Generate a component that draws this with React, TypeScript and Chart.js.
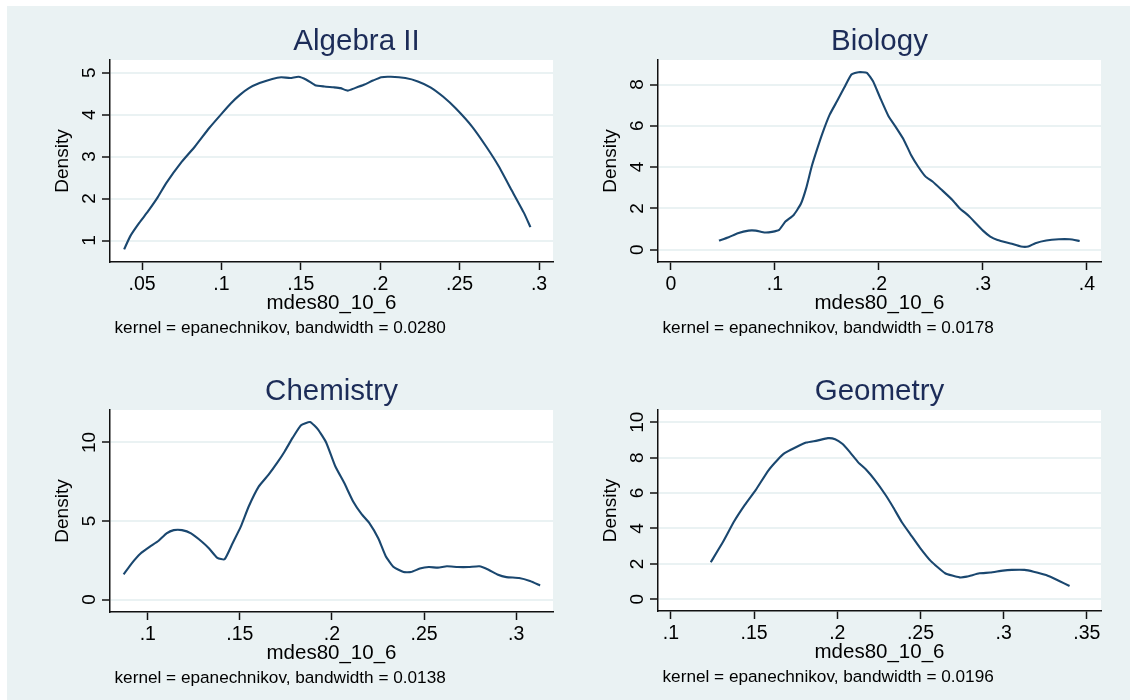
import { useEffect, useRef } from "react";
import { Chart, registerables } from "chart.js";
Chart.register(...registerables);

// ---------- data ----------
const algebraX = [0.0387,0.0425,0.0482,0.0538,0.0595,0.0652,0.0742,0.0833,0.0923,0.1003,0.106,0.1116,0.1173,0.124,0.132,0.1376,0.1433,0.1485,0.1535,0.159,0.1648,0.1705,0.175,0.1795,0.184,0.1897,0.1954,0.2006,0.2067,0.2158,0.2237,0.2316,0.2395,0.2475,0.2577,0.2667,0.2746,0.2826,0.2905,0.2946];
const algebraY = [0.79,1.10,1.42,1.70,2.01,2.37,2.84,3.24,3.68,4.03,4.27,4.47,4.63,4.75,4.85,4.89,4.87,4.90,4.83,4.70,4.67,4.65,4.63,4.57,4.63,4.71,4.81,4.89,4.90,4.87,4.79,4.65,4.43,4.15,3.72,3.24,2.77,2.21,1.66,1.32];
const algebraXTicks = [0.05, 0.1, 0.15, 0.2, 0.25, 0.3];
const algebraXLabels = [".05", ".1", ".15", ".2", ".25", ".3"];
const algebraYTicks = [1, 2, 3, 4, 5];

const biologyX = [0.0461,0.0555,0.0642,0.0746,0.0815,0.0902,0.0971,0.104,0.110,0.118,0.1249,0.130,0.1353,0.1405,0.1457,0.1526,0.1596,0.1665,0.1735,0.1804,0.1884,0.1943,0.2012,0.2092,0.2168,0.2238,0.2307,0.2376,0.2446,0.2515,0.2602,0.2706,0.2775,0.2862,0.2931,0.300,0.307,0.314,0.3278,0.3365,0.3435,0.3504,0.3608,0.3729,0.3833,0.393];
const biologyY = [0.44,0.60,0.79,0.92,0.92,0.83,0.86,0.96,1.36,1.68,2.22,2.98,4.03,4.87,5.65,6.54,7.19,7.84,8.49,8.60,8.57,8.16,7.35,6.46,5.89,5.33,4.60,4.03,3.55,3.30,2.90,2.41,2.01,1.64,1.28,0.92,0.63,0.47,0.28,0.15,0.15,0.31,0.44,0.50,0.50,0.42];
const biologyXTicks = [0, 0.1, 0.2, 0.3, 0.4];
const biologyXLabels = ["0", ".1", ".2", ".3", ".4"];
const biologyYTicks = [0, 2, 4, 6, 8];

const chemistryX = [0.0869,0.0912,0.0961,0.101,0.1059,0.1102,0.1141,0.1186,0.1235,0.1294,0.1333,0.1378,0.1417,0.146,0.1505,0.1548,0.1603,0.1656,0.1705,0.1744,0.1787,0.1832,0.1881,0.1924,0.1969,0.2018,0.2067,0.2115,0.216,0.2204,0.2252,0.2292,0.2335,0.2389,0.2429,0.2477,0.2526,0.2575,0.2624,0.2683,0.2742,0.28,0.285,0.2898,0.2947,0.3016,0.3075,0.313];
const chemistryY = [1.60,2.29,2.93,3.35,3.74,4.21,4.42,4.42,4.21,3.68,3.25,2.65,2.56,3.57,4.64,5.92,7.20,7.95,8.74,9.44,10.30,11.09,11.30,10.83,9.98,8.48,7.41,6.24,5.45,4.85,3.89,2.76,2.07,1.75,1.75,1.97,2.07,2.03,2.12,2.07,2.07,2.12,1.90,1.60,1.43,1.37,1.18,0.90];
const chemistryXTicks = [0.1, 0.15, 0.2, 0.25, 0.3];
const chemistryXLabels = [".1", ".15", ".2", ".25", ".3"];
const chemistryYTicks = [0, 5, 10];

const geometryX = [0.1239,0.1314,0.1379,0.1444,0.151,0.1585,0.164,0.1683,0.1748,0.1813,0.1878,0.1943,0.1987,0.203,0.2073,0.2127,0.2171,0.2225,0.229,0.2333,0.2388,0.2442,0.2496,0.2561,0.2648,0.2735,0.2778,0.2854,0.2919,0.2995,0.3049,0.3125,0.318,0.3255,0.3331,0.3396];
const geometryY = [2.09,3.26,4.39,5.33,6.18,7.27,7.87,8.25,8.57,8.85,8.96,9.10,9.04,8.78,8.34,7.72,7.34,6.74,5.89,5.24,4.35,3.63,2.92,2.17,1.47,1.24,1.28,1.47,1.51,1.62,1.66,1.66,1.56,1.37,1.05,0.75];
const geometryXTicks = [0.1, 0.15, 0.2, 0.25, 0.3, 0.35];
const geometryXLabels = [".1", ".15", ".2", ".25", ".3", ".35"];
const geometryYTicks = [0, 2, 4, 6, 8, 10];

const xTitle = "mdes80_10_6";
const yTitle = "Density";

// ---------- styles / layout ----------
const FONT = '"Liberation Sans", Arial, sans-serif';
const BG = "#eaf2f3";
const LINE = "#1a476f";
const TITLE_COLOR = "#1c2c58";
const AXIS = "#111111";

type PanelDef = {
  title: string;
  note: string;
  xs: number[];
  ys: number[];
  xTicks: number[];
  xLabels: string[];
  yTicks: number[];
  xMin: number; xMax: number; yMin: number; yMax: number;
  cl: number; ct: number; cw: number; ch: number;
  pl: number; pr: number; pt: number; pb: number;
  titleShift: number;
};

const panels: PanelDef[] = [
  {
    title: "Algebra II", note: "kernel = epanechnikov, bandwidth = 0.0280",
    xs: algebraX, ys: algebraY, xTicks: algebraXTicks, xLabels: algebraXLabels, yTicks: algebraYTicks,
    xMin: 0.0298, xMax: 0.3088, yMin: 0.49, yMax: 5.30,
    cl: 7, ct: 6, cw: 558, ch: 349, pl: 110, pr: 553, pt: 60, pb: 262, titleShift: 25,
  },
  {
    title: "Biology", note: "kernel = epanechnikov, bandwidth = 0.0178",
    xs: biologyX, ys: biologyY, xTicks: biologyXTicks, xLabels: biologyXLabels, yTicks: biologyYTicks,
    xMin: -0.0125, xMax: 0.4135, yMin: -0.6, yMax: 9.19,
    cl: 565, ct: 6, cw: 565, ch: 349, pl: 658, pr: 1101, pt: 60, pb: 262, titleShift: 0,
  },
  {
    title: "Chemistry", note: "kernel = epanechnikov, bandwidth = 0.0138",
    xs: chemistryX, ys: chemistryY, xTicks: chemistryXTicks, xLabels: chemistryXLabels, yTicks: chemistryYTicks,
    xMin: 0.0795, xMax: 0.32, yMin: -0.79, yMax: 12.06,
    cl: 7, ct: 355, cw: 558, ch: 345, pl: 110, pr: 553, pt: 410, pb: 612, titleShift: 0,
  },
  {
    title: "Geometry", note: "kernel = epanechnikov, bandwidth = 0.0196",
    xs: geometryX, ys: geometryY, xTicks: geometryXTicks, xLabels: geometryXLabels, yTicks: geometryYTicks,
    xMin: 0.0922, xMax: 0.3585, yMin: -0.66, yMax: 10.69,
    cl: 565, ct: 355, cw: 565, ch: 345, pl: 658, pr: 1101, pt: 410, pb: 611, titleShift: 0,
  },
];

function fmtY(v: number) {
  return String(v);
}

function Panel({ p }: { p: PanelDef }) {
  const ref = useRef<HTMLCanvasElement>(null);
  useEffect(() => {
    const canvas = ref.current!;
    const textPlugin = {
      id: "stataText",
      beforeDraw(chart: any) {
        const { ctx, chartArea } = chart;
        ctx.save();
        ctx.fillStyle = "#ffffff";
        ctx.fillRect(chartArea.left, chartArea.top, chartArea.right - chartArea.left, chartArea.bottom - chartArea.top);
        ctx.restore();
      },
      afterDraw(chart: any) {
        const { ctx, chartArea, scales } = chart;
        const xs = scales.x, ys = scales.y;
        ctx.save();
        // title
        ctx.fillStyle = TITLE_COLOR;
        ctx.font = `29.5px ${FONT}`;
        ctx.textAlign = "center";
        ctx.textBaseline = "alphabetic";
        ctx.fillText(p.title, (chartArea.left + chartArea.right) / 2 + p.titleShift, chartArea.top - 10);
        // x tick labels
        ctx.fillStyle = "#000000";
        ctx.font = `19.5px ${FONT}`;
        p.xTicks.forEach((v, i) => {
          ctx.fillText(p.xLabels[i], xs.getPixelForValue(v), chartArea.bottom + 28);
        });
        // x title
        ctx.font = `20.5px ${FONT}`;
        ctx.fillText(xTitle, (chartArea.left + chartArea.right) / 2, chartArea.bottom + 47);
        // note
        ctx.font = `17.2px ${FONT}`;
        ctx.textAlign = "left";
        ctx.fillText(p.note, chartArea.left + 4.5, chartArea.bottom + 71);
        // y tick labels (rotated)
        ctx.font = `19px ${FONT}`;
        ctx.textAlign = "center";
        p.yTicks.forEach((v) => {
          ctx.save();
          ctx.translate(chartArea.left - 15, ys.getPixelForValue(v));
          ctx.rotate(-Math.PI / 2);
          ctx.fillText(fmtY(v), 0, 0);
          ctx.restore();
        });
        // y title
        ctx.save();
        ctx.font = `19px ${FONT}`;
        ctx.translate(chartArea.left - 42, (chartArea.top + chartArea.bottom) / 2);
        ctx.rotate(-Math.PI / 2);
        ctx.fillText(yTitle, 0, 0);
        ctx.restore();
        ctx.restore();
      },
    };

    const chart = new Chart(canvas, {
      type: "line",
      data: {
        datasets: [
          {
            data: p.xs.map((x, i) => ({ x, y: p.ys[i] })),
            borderColor: LINE,
            borderWidth: 2.1,
            pointRadius: 0,
            tension: 0.15,
            fill: false,
          },
        ],
      },
      options: {
        responsive: false,
        animation: false,
        devicePixelRatio: 1,
        events: [],
        layout: {
          padding: { left: 0, top: p.pt - p.ct, right: p.cl + p.cw - p.pr, bottom: 0 },
        },
        plugins: {
          legend: { display: false },
          tooltip: { enabled: false },
          title: { display: false },
        },
        scales: {
          x: {
            type: "linear",
            min: p.xMin,
            max: p.xMax,
            afterBuildTicks: (s: any) => {
              s.ticks = p.xTicks.map((v) => ({ value: v }));
            },
            afterFit: (s: any) => {
              s.height = p.ct + p.ch - p.pb;
            },
            ticks: { display: false },
            grid: {
              display: true,
              drawOnChartArea: false,
              drawTicks: true,
              tickLength: 8,
              tickColor: AXIS,
              tickWidth: 1.5,
            },
            border: { display: true, color: AXIS, width: 1.5 },
          },
          y: {
            type: "linear",
            min: p.yMin,
            max: p.yMax,
            afterBuildTicks: (s: any) => {
              s.ticks = p.yTicks.map((v) => ({ value: v }));
            },
            afterFit: (s: any) => {
              s.width = p.pl - p.cl;
            },
            ticks: { display: false },
            grid: {
              display: true,
              drawOnChartArea: true,
              color: BG,
              lineWidth: 2,
              drawTicks: true,
              tickLength: 8,
              tickColor: AXIS,
              tickWidth: 1.5,
            },
            border: { display: true, color: AXIS, width: 1.5 },
          },
        },
      },
      plugins: [textPlugin],
    } as any);
    return () => chart.destroy();
  }, [p]);
  return (
    <canvas
      ref={ref}
      width={p.cw}
      height={p.ch}
      style={{ position: "absolute", left: p.cl, top: p.ct, width: p.cw, height: p.ch }}
    />
  );
}

export default function App() {
  return (
    <div style={{ position: "absolute", left: 0, top: 0, width: 1130, height: 700, background: "#ffffff", overflow: "hidden" }}>
      <div style={{ position: "absolute", left: 7, top: 6, width: 1123, height: 694, background: BG }} />
      {panels.map((p) => (
        <Panel key={p.title} p={p} />
      ))}
    </div>
  );
}
